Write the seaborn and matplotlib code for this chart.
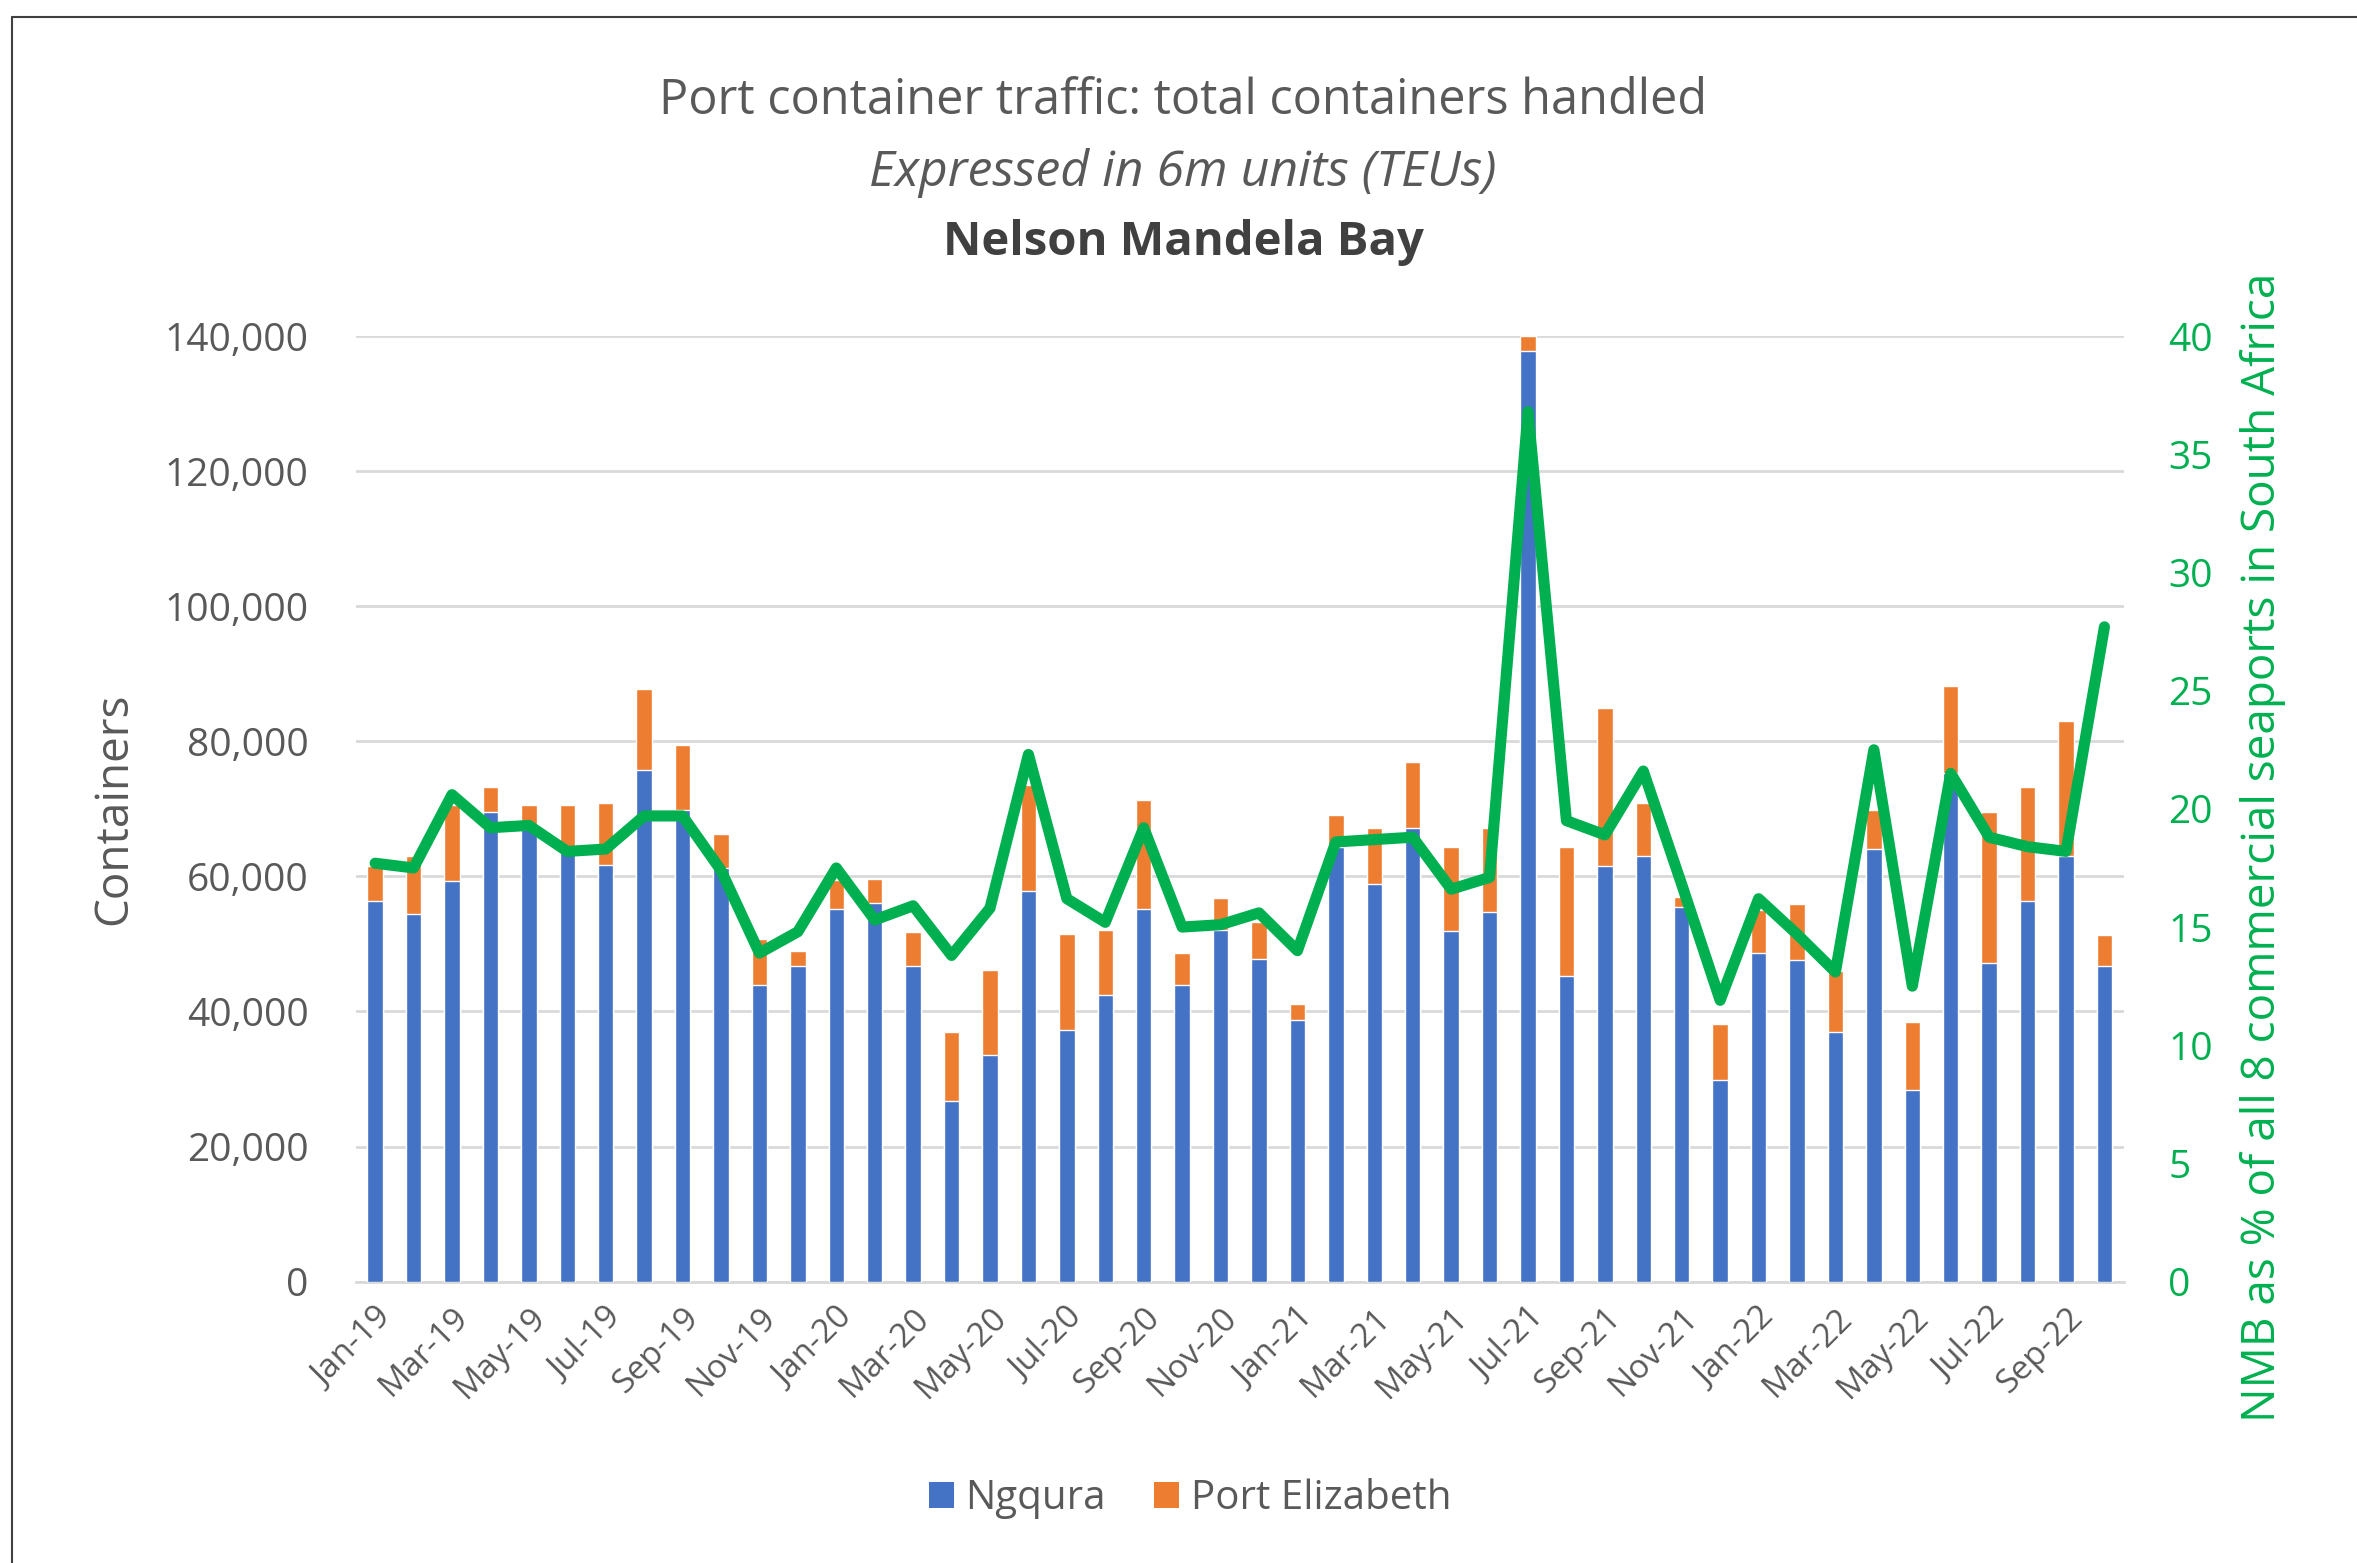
import numpy as np
import pandas as pd
import matplotlib
matplotlib.use("Agg")
import matplotlib.pyplot as plt
from matplotlib.patches import Patch
from matplotlib.lines import Line2D
import seaborn as sns

# ---------------- data ----------------
months = ["Jan-19", "Feb-19", "Mar-19", "Apr-19", "May-19", "Jun-19", "Jul-19", "Aug-19",
          "Sep-19", "Oct-19", "Nov-19", "Dec-19",
          "Jan-20", "Feb-20", "Mar-20", "Apr-20", "May-20", "Jun-20", "Jul-20", "Aug-20",
          "Sep-20", "Oct-20", "Nov-20", "Dec-20",
          "Jan-21", "Feb-21", "Mar-21", "Apr-21", "May-21", "Jun-21", "Jul-21", "Aug-21",
          "Sep-21", "Oct-21", "Nov-21", "Dec-21",
          "Jan-22", "Feb-22", "Mar-22", "Apr-22", "May-22", "Jun-22", "Jul-22", "Aug-22",
          "Sep-22", "Oct-22"]

ngqura = [56400, 54500, 59300, 69600, 67500, 64000, 61700, 75700, 69800, 61200, 43900, 46700,
          55100, 56000, 46700, 26700, 33600, 57900, 37300, 42500, 55100, 43900, 52100, 47700,
          38700, 64400, 58900, 67200, 51900, 54700, 137800, 45300, 61600, 63000, 55400, 29800,
          48600, 47600, 37000, 64000, 28400, 75300, 47200, 56400, 63000, 46700]

port_elizabeth = [5200, 8500, 11200, 3600, 3000, 6500, 9200, 12100, 9600, 5100, 6900, 2300,
                  4400, 3600, 5100, 10200, 12600, 15600, 14100, 9600, 16200, 4700, 4700, 5500,
                  2400, 4700, 8300, 9800, 12500, 12500, 2200, 19100, 23400, 7900, 1600, 8400,
                  6400, 8300, 9000, 5900, 10100, 12900, 22300, 16800, 20000, 4600]

nmb_share = [17.7, 17.5, 20.6, 19.2, 19.3, 18.2, 18.3, 19.7, 19.7, 17.4, 13.9, 14.8,
             17.5, 15.3, 15.9, 13.8, 15.8, 22.3, 16.2, 15.2, 19.2, 15.0, 15.1, 15.6,
             14.0, 18.6, 18.7, 18.8, 16.6, 17.1, 36.8, 19.5, 18.9, 21.6, 16.8, 11.9,
             16.2, 14.7, 13.1, 22.5, 12.5, 21.5, 18.8, 18.4, 18.2, 27.7]

title_lines = ["Port container traffic: total containers handled",
               "Expressed in 6m units (TEUs)",
               "Nelson Mandela Bay"]
left_label = "Containers"
right_label = "NMB as % of all 8 commercial seaports in South Africa"
series_names = ["Ngqura", "Port Elizabeth"]

# ---------------- style ----------------
BLUE = "#4472C4"
ORANGE = "#ED7D31"
GREEN = "#00B050"
GREY_TXT = "#595959"
GRID = "#D9D9D9"

sns.set_theme(style="white")
plt.rcParams["font.family"] = ["Open Sans", "DejaVu Sans"]

df = pd.DataFrame({
    "month": months,
    "ngqura": ngqura,
    "pe": port_elizabeth,
    "share": nmb_share,
})
df["total"] = df["ngqura"] + df["pe"]
df["pos"] = np.arange(len(df))

fig = plt.figure(figsize=(23.57, 15.63), dpi=100)
ax = fig.add_axes([0.151, 0.180, 0.750, 0.605])

# stacked bars: total (orange) then Ngqura (blue) over it
sns.barplot(data=df, x="month", y="total", color=ORANGE, width=0.4, saturation=1,
            ax=ax, zorder=2)
sns.barplot(data=df, x="month", y="ngqura", color=BLUE, width=0.4, saturation=1,
            ax=ax, zorder=3)

ax.set_ylim(0, 140000)
ax.set_xlim(-0.5, len(months) - 0.5)
ax.set_yticks(np.arange(0, 140001, 20000))
ax.set_yticklabels([f"{v:,}" for v in range(0, 140001, 20000)], color=GREY_TXT, fontsize=28)
ax.yaxis.grid(True, color=GRID, linewidth=2)
ax.set_axisbelow(True)
ax.tick_params(axis="y", length=0, pad=34)

ax.set_xticks(np.arange(0, len(months), 2))
ax.set_xticklabels(months[::2], rotation=45, ha="right", rotation_mode="anchor",
                   color=GREY_TXT, fontsize=24)
ax.set_xticks(np.arange(-0.5, len(months), 2), minor=True)
ax.tick_params(axis="x", which="major", length=0, pad=14)
ax.tick_params(axis="x", which="minor", length=10, width=1.5, color=GRID, direction="out")
ax.set_xlabel("")
ax.set_ylabel(left_label, color=GREY_TXT, fontsize=33, labelpad=20)

for s in ["left", "right", "top"]:
    ax.spines[s].set_visible(False)
ax.spines["bottom"].set_color(GRID)
ax.spines["bottom"].set_linewidth(2)

# line on secondary axis
ax2 = ax.twinx()
sns.lineplot(data=df, x="pos", y="share", color=GREEN, linewidth=8, ax=ax2,
             solid_joinstyle="round", solid_capstyle="round")
ax2.set_ylim(0, 40)
ax2.set_xlim(-0.5, len(months) - 0.5)
ax2.set_yticks(np.arange(0, 41, 5))
ax2.set_yticklabels([str(v) for v in range(0, 41, 5)], color=GREEN, fontsize=28)
ax2.tick_params(axis="y", length=0, pad=32)
ax2.set_ylabel(right_label, color=GREEN, fontsize=33)
ax2.yaxis.label.set_va("center")
ax2.yaxis.set_label_coords(1.079, 0.459)
ax2.set_xlabel("")
for s in ["left", "right", "top", "bottom"]:
    ax2.spines[s].set_visible(False)
ax2.grid(False)

# titles
fig.text(0.502, 0.9355, title_lines[0], ha="center", va="center", color=GREY_TXT, fontsize=35)
fig.text(0.502, 0.8895, title_lines[1], ha="center", va="center", color=GREY_TXT,
         fontsize=36, style="italic")
fig.text(0.502, 0.8450, title_lines[2], ha="center", va="center", color="#404040",
         fontsize=34, fontweight="bold")

# legend
handles = [Patch(facecolor=BLUE, edgecolor="none", label=series_names[0]),
           Patch(facecolor=ORANGE, edgecolor="none", label=series_names[1])]
leg = fig.legend(handles=handles, loc="center", bbox_to_anchor=(0.505, 0.041), ncol=2,
                 frameon=False, fontsize=29, handlelength=0.6, handleheight=0.6,
                 handletextpad=0.3, columnspacing=1.2)
for t in leg.get_texts():
    t.set_color(GREY_TXT)

# outer frame (left and top edges)
fig.add_artist(Line2D([12 / 2357, 12 / 2357], [0, 1 - 17 / 1563], color="#404040",
                      linewidth=1.5, transform=fig.transFigure))
fig.add_artist(Line2D([12 / 2357, 1], [1 - 17 / 1563, 1 - 17 / 1563], color="#404040",
                      linewidth=1.5, transform=fig.transFigure))

fig.savefig("out.png", dpi=100, facecolor="white")
